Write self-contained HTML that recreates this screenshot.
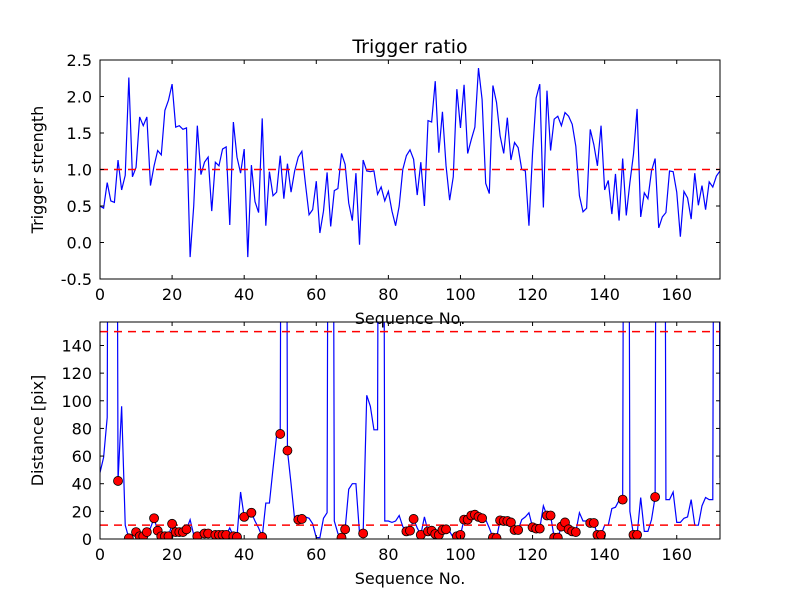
<!DOCTYPE html>
<html><head><meta charset="utf-8"><style>
html,body{margin:0;padding:0;background:#fff;}
svg{display:block;font-family:"DejaVu Sans","Liberation Sans",sans-serif;}
</style></head><body>
<svg id="chart" width="800" height="600" viewBox="0 0 800 600">
<rect x="0" y="0" width="800" height="600" fill="#fff"/>
</svg>
<script>
const seqIndex = Array.from({length:173},(_,i)=>i);
const triggerStrength = [0.5,0.47,0.82,0.57,0.55,1.13,0.72,0.92,2.26,0.9,1.03,1.72,1.6,1.72,0.78,1.05,1.26,1.2,1.81,1.95,2.17,1.58,1.6,1.55,1.57,-0.2,0.5,1.6,0.93,1.1,1.17,0.43,1.1,1.05,1.28,1.31,0.24,1.65,1.17,0.95,1.28,-0.2,1.06,0.56,0.41,1.7,0.23,0.97,0.64,0.69,1.19,0.6,1.08,0.69,0.98,1.17,1.25,0.8,0.38,0.45,0.84,0.13,0.43,0.96,0.22,0.71,0.74,1.22,1.07,0.54,0.3,0.95,-0.03,1.13,0.98,0.97,0.98,0.66,0.76,0.57,0.7,0.43,0.23,0.5,1.0,1.19,1.27,1.14,0.65,1.1,0.5,1.67,1.65,2.21,1.23,1.79,1.05,0.58,0.9,2.1,1.57,2.16,1.22,1.41,1.58,2.39,1.96,0.81,0.67,2.15,1.92,1.46,1.22,1.71,1.13,1.37,1.3,1.0,0.98,0.23,1.23,1.98,2.17,0.48,2.08,1.26,1.69,1.73,1.6,1.78,1.73,1.62,1.32,0.64,0.42,0.47,1.55,1.34,1.05,1.6,0.72,0.85,0.39,0.94,0.3,1.15,0.37,0.82,1.21,1.83,0.35,0.68,0.6,0.98,1.15,0.2,0.35,0.41,0.98,0.97,0.69,0.08,0.7,0.61,0.32,0.95,0.51,0.78,0.45,0.83,0.76,0.91,0.98];
const distance = [48,59,88,1000,1000,42,96,10,0.5,2,5,2,2,5,8,15,6,2,2,2,11,5,5,5,7,14,3,2,5.5,4,4,3,3,3,3,3,8,2,1.5,34,16,18,19,13,8,1.5,26,26,51,75,76,1000,64,40,14,14,14.5,16,15,11,1,1,15,19,1000,13,4,1,7,36,40,40,4,4,104,96,79,79,1000,13,13,12,13,17,9,5.5,6,14.5,8,3,16,5.5,6,3.6,3,6.5,7,5.5,1,2,3,14,14,17,17.6,16,15,14,8,1,0.7,13.5,13,13,12,6.5,6.5,14,16,19,8.5,7.5,7.5,24,17,17,1,1,9,12,7,5.5,5,19,13,13,11.6,11.6,3,3,10,10,22,23,28,28.5,1000,20,3,3,30,5.5,5.5,14,30.4,1000,1000,28.5,28.5,34,12,12,15,16,28.5,10,10,24,30,28.5,28.5,1000,44];
const topYTicks = ["-0.5","0.0","0.5","1.0","1.5","2.0","2.5"];
const botYTicks = ["0","20","40","60","80","100","120","140"];
const xTicks = ["0","20","40","60","80","100","120","140","160"];
const triggerThreshold = 1.0;
const distThresholds = [10,150];

const svg=document.getElementById('chart');
const NS='http://www.w3.org/2000/svg';
function mk(tag,attrs,parent){const e=document.createElementNS(NS,tag);for(const k in attrs)e.setAttribute(k,attrs[k]);(parent||svg).appendChild(e);return e;}
const L=100,R=720,XMAX=172;
const xs=v=>L+(v/XMAX)*(R-L);
const topAx={t:60,b:279,min:-0.5,max:2.5};
const botAx={t:322,b:539,min:0,max:157};
const ys=(ax,v)=>ax.b-(v-ax.min)/(ax.max-ax.min)*(ax.b-ax.t);

function clip(id,ax){const d=mk('defs',{});const c=mk('clipPath',{id:id},d);mk('rect',{x:L,y:ax.t,width:R-L,height:ax.b-ax.t},c);}
clip('ct',topAx);clip('cb',botAx);

function axes(ax,yt,name,ylabel){
  const g=mk('g',{});
  
  
  yt.forEach(s=>{const v=parseFloat(s),y=ys(ax,v);
    mk('line',{x1:L,x2:L+4,y1:y,y2:y,stroke:'#000','stroke-width':1},g);
    mk('line',{x1:R,x2:R-4,y1:y,y2:y,stroke:'#000','stroke-width':1},g);
    const t=mk('text',{x:L-8,y:y+6,'text-anchor':'end','font-size':16},g);t.textContent=s;
    
    
  });
  xTicks.forEach(s=>{const x=xs(parseFloat(s));
    mk('line',{x1:x,x2:x,y1:ax.b,y2:ax.b-4,stroke:'#000','stroke-width':1},g);
    mk('line',{x1:x,x2:x,y1:ax.t,y2:ax.t+4,stroke:'#000','stroke-width':1},g);
    const t=mk('text',{x:x,y:ax.b+21,'text-anchor':'middle','font-size':16},g);t.textContent=s;
    
    
  });
  const xl=mk('text',{x:(L+R)/2,y:ax.b+45,'text-anchor':'middle','font-size':16},g);xl.textContent='Sequence No.';
  
  
  const cy=(ax.t+ax.b)/2;
  const yl=mk('text',{x:0,y:0,'text-anchor':'middle','font-size':16,transform:`translate(43,${cy}) rotate(-90)`},g);yl.textContent=ylabel;
  
  
}

function dash(ax,v,cid){const l=mk('line',{x1:L,x2:R,y1:ys(ax,v),y2:ys(ax,v),stroke:'#ff0000','stroke-width':1.5,'stroke-dasharray':'8,6','clip-path':`url(#${cid})`});
  
  }

// top
const pt=triggerStrength.map((v,i)=>xs(seqIndex[i]).toFixed(2)+','+ys(topAx,v).toFixed(2)).join(' ');
const lt=mk('polyline',{points:pt,fill:'none',stroke:'#0000ff','stroke-width':1.2,'clip-path':'url(#ct)'});


dash(topAx,triggerThreshold,'ct');
mk('rect',{x:L,y:topAx.t,width:R-L,height:topAx.b-topAx.t,fill:'none',stroke:'#000','stroke-width':1});
axes(topAx,topYTicks,'top-axes','Trigger strength');
const title=mk('text',{x:410,y:53,'text-anchor':'middle','font-size':19});title.textContent='Trigger ratio';



// bottom
const pb=distance.map((v,i)=>xs(seqIndex[i]).toFixed(2)+','+ys(botAx,Math.min(v,5000)).toFixed(2)).join(' ');
const lb=mk('polyline',{points:pb,fill:'none',stroke:'#0000ff','stroke-width':1.2,'clip-path':'url(#cb)'});


distThresholds.forEach(v=>dash(botAx,v,'cb'));
distance.forEach((v,i)=>{
  if(triggerStrength[i]>triggerThreshold && v<=botAx.max){
    const c=mk('circle',{cx:xs(seqIndex[i]),cy:ys(botAx,v),r:4.5,fill:'#ff0000',stroke:'#000','stroke-width':0.8,'clip-path':'url(#cb)'});
    
    
  }
});
mk('rect',{x:L,y:botAx.t,width:R-L,height:botAx.b-botAx.t,fill:'none',stroke:'#000','stroke-width':1});
axes(botAx,botYTicks,'bottom-axes','Distance [pix]');
</script>
</body></html>
